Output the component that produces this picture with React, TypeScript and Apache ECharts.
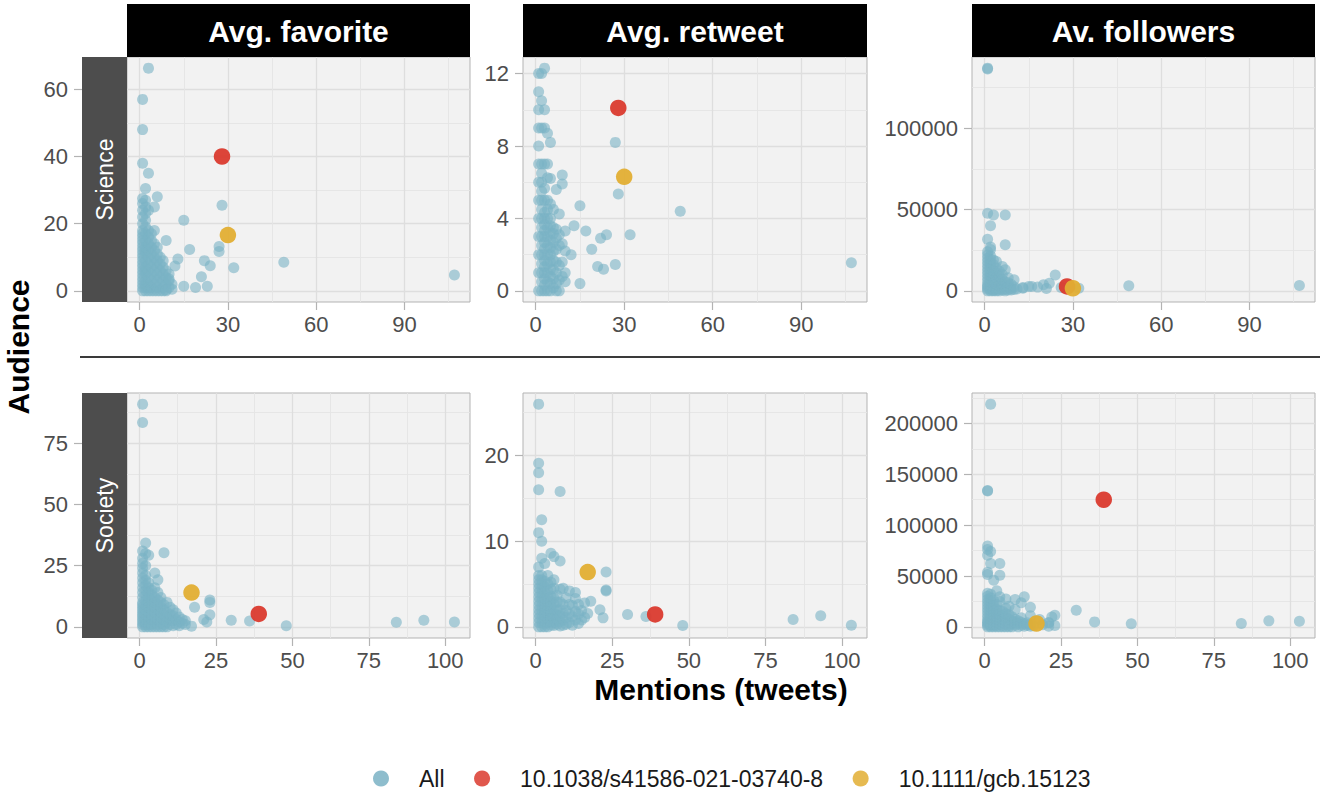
import React, { useEffect, useRef } from "react";
import * as echarts from "echarts";

const FONT = '"Liberation Sans", Arial, Helvetica, sans-serif';

// ---------- labels ----------
const rowLabels = ["Science", "Society"];
const metricLabels = ["Avg. favorite", "Avg. retweet", "Av. followers"];
const legendNames = ["All", "10.1038/s41586-021-03740-8", "10.1111/gcb.15123"];
const xAxisTitle = "Mentions (tweets)";
const yAxisTitle = "Audience";

// ---------- tick labels ----------
const xTicksScience = [0, 30, 60, 90];
const xTicksSociety = [0, 25, 50, 75, 100];
const yTicksSciFav = [0, 20, 40, 60];
const yTicksSciRt = [0, 4, 8, 12];
const yTicksSciFol = [0, 50000, 100000];
const yTicksSocFav = [0, 25, 50, 75];
const yTicksSocRt = [0, 10, 20];
const yTicksSocFol = [0, 50000, 100000, 150000, 200000];

type Cluster = [number, number[]][];
type Pts = [number, number][];

// ---------- Science / Avg. favorite ----------
const sciFavCluster: Cluster = [
  [1, [0, 1, 2, 3, 4, 5, 6, 7, 8, 9, 10, 11, 12, 13, 14, 15, 16, 17, 18, 20, 22, 24, 26, 27.5]],
  [2, [0, 1, 2, 3, 5, 6, 7, 9, 11, 12, 13, 15, 17, 19, 21, 23, 25, 27]],
  [3, [0, 1, 2, 4, 6, 8, 10, 12, 14, 16, 18, 24]],
  [4, [0, 1, 3, 5, 7, 9, 11, 13, 15, 17]],
  [5, [0, 2, 4, 6, 8, 10, 12, 14, 18]],
  [6, [0, 1, 3, 5, 7, 9, 11, 13]],
  [7, [0, 2, 4, 6, 8, 10]],
  [8, [0, 1, 3, 5, 7, 9]],
  [9, [0, 2, 4, 6]],
  [10, [1, 3, 5]],
  [11, [0.5, 2]],
];
const sciFavOutliers: Pts = [
  [3, 66.3], [1, 57], [1, 48], [1, 38], [3, 35], [2, 30.5], [6, 28], [5, 25],
  [15, 21], [28, 25.5], [9, 15], [17, 12.3], [27, 13.2], [27, 11.7], [13, 9.5],
  [12, 7.4], [22, 9], [24, 7.5], [32, 6.9], [49, 8.5], [107, 4.7], [21, 4.2],
  [15, 1.4], [19, 1], [23, 1.4], [9, 0.3], [10, 3.5],
];
const sciFavPaper1: Pts = [[28, 40]];
const sciFavPaper2: Pts = [[30, 16.6]];

// ---------- Science / Avg. retweet ----------
const sciRtCluster: Cluster = [
  [1, [0, 1, 2, 3, 4, 5, 6, 7, 8, 9, 10, 11, 12]],
  [2, [0, 0.5, 1, 1.5, 2, 2.5, 3, 3.5, 4, 4.5, 5, 5.5, 6, 6.5, 7, 9, 10.5, 12]],
  [3, [0, 0.33, 0.67, 1, 1.33, 1.67, 2, 2.33, 2.67, 3, 3.33, 3.67, 4, 4.33, 5, 5.67, 7, 9, 10]],
  [4, [0, 0.5, 1, 1.5, 2, 2.5, 3, 3.5, 4, 4.5, 5, 6.25, 7, 8.7]],
  [5, [0, 0.4, 0.8, 1.2, 1.6, 2, 2.4, 2.8, 3.2, 3.6, 4, 4.8, 6.2, 8.2]],
  [6, [0.17, 0.67, 1.17, 1.67, 2.17, 2.67, 3.17, 3.5, 4.5]],
  [7, [0, 0.4, 1, 1.6, 2.3, 2.9, 3.4, 5.6]],
  [8, [0, 0.6, 1.4, 2.5, 3.1, 4.25]],
  [9, [0.8, 1.6, 2.6, 6.4, 5.9]],
  [10, [0.5, 1, 2.2, 3.3]],
];
const sciRtOutliers: Pts = [
  [3, 12.3], [15, 4.7], [49, 4.4], [13, 3.6], [17, 3.3], [24, 3.1], [32, 3.1],
  [22, 2.9], [19, 2.3], [12, 2], [21, 1.35], [23, 1.2], [27, 1.45], [15, 0.4],
  [107, 1.55], [28, 5.35], [27, 8.2],
];
const sciRtPaper1: Pts = [[28, 10.1]];
const sciRtPaper2: Pts = [[30, 6.3]];

// ---------- Science / Av. followers ----------
const sciFolCluster: Cluster = [
  [1, [0, 1000, 2000, 3000, 4000, 6000, 8000, 10000, 12000, 14000, 16000, 18000, 20000, 22000, 24000]],
  [2, [0, 1000, 2500, 3500, 5500, 7500, 9500, 11500, 13500, 15500, 17500, 19500, 21500, 25500]],
  [3, [0, 500, 2500, 4500, 6500, 8500, 10500, 12500, 16000, 19000]],
  [4, [0, 1000, 2000, 4000, 6000, 8000, 11000, 14000, 18000]],
  [5, [0, 1000, 3000, 5000, 7000, 9000, 12000]],
  [6, [500, 2500, 4500, 7000, 10000, 15000]],
  [7, [0, 1000, 3000, 5500, 13000]],
  [8, [500, 2500, 5000, 8000]],
  [9, [500, 1500, 4000]],
  [10, [800, 2500, 6800]],
  [11, [1200]],
  [13, [2000]],
  [15, [2700]],
];
const sciFolOutliers: Pts = [
  [1, 137000], [1, 136500], [1, 47700], [3, 46700], [7, 46700], [2, 40000],
  [1, 31800], [7, 28300], [2, 27000], [24, 9800], [22, 4700], [20, 3700],
  [16, 2700], [18, 2300], [13, 1600], [21, 1400], [32, 1600], [49, 3100],
  [107, 3300], [26, 2000], [29, 2200],
];
const sciFolPaper1: Pts = [[28, 2700]];
const sciFolPaper2: Pts = [[30, 1600]];

// ---------- Society / Avg. favorite ----------
const socFavCluster: Cluster = [
  [1, [0, 1, 2, 3, 4, 5, 6, 7, 8, 9, 10, 12, 14, 16, 18, 20, 22, 24, 26, 28]],
  [2, [0, 1, 2, 3, 5, 7, 9, 11, 13, 15, 17, 19, 21, 25]],
  [3, [0, 1, 2, 4, 6, 8, 10, 12, 14, 16, 18]],
  [4, [0, 1, 3, 5, 7, 9, 11, 13, 15]],
  [5, [0, 2, 4, 6, 8, 10, 12, 16]],
  [6, [0, 1, 3, 5, 7, 9, 11, 14]],
  [7, [0, 2, 4, 6, 8, 10, 12]],
  [8, [0, 1, 3, 5, 7, 9]],
  [9, [0, 2, 4, 6, 10]],
  [10, [1, 3, 5, 8]],
  [11, [0.5, 2.5, 4.5, 7]],
  [12, [1, 3, 5.7]],
  [13, [0.5, 2, 4]],
  [14, [1.5, 3]],
  [15, [1, 2.5]],
];
const socFavOutliers: Pts = [
  [1, 91], [1, 83.5], [2, 34.3], [1, 31], [2, 30], [3, 29.3], [8, 30.3], [5, 22],
  [6, 19.2], [23, 11], [23, 10], [18, 8], [23, 4.9], [21, 3], [22, 2], [17, 0.3],
  [30, 2.7], [36, 2.4], [48, 0.5], [84, 1.9], [93, 2.7], [103, 2],
];
const socFavPaper1: Pts = [[39, 5.3]];
const socFavPaper2: Pts = [[17, 14]];

// ---------- Society / Avg. retweet ----------
const socRtCluster: Cluster = [
  [1, [0, 0.5, 1, 1.5, 2, 2.5, 3, 3.5, 4, 4.5, 5, 5.5, 6, 7]],
  [2, [0, 0.5, 1, 1.5, 2, 2.5, 3, 3.5, 4, 4.5, 5, 5.5, 6]],
  [3, [0, 0.33, 0.67, 1, 1.33, 1.67, 2, 2.33, 2.67, 3, 3.33, 4, 4.67, 5.33]],
  [4, [0, 0.5, 1, 1.5, 2, 2.5, 3, 3.5, 4.25, 5, 6]],
  [5, [0.2, 0.6, 1, 1.4, 1.8, 2.4, 3, 3.6, 4.4, 5.2]],
  [6, [0.17, 0.5, 1, 1.5, 2, 2.67, 3.33, 4.5, 5.5]],
  [7, [0.3, 0.9, 1.4, 2, 2.9, 3.7]],
  [8, [0.1, 0.6, 1.3, 2, 2.9, 4.4]],
  [9, [0.2, 0.8, 1.6, 2.6, 4.5]],
  [10, [0.3, 1.1, 1.9, 3.4]],
  [11, [0.5, 1.5, 2.6, 4.2]],
  [12, [0.2, 1.2, 2.5]],
  [13, [0.8, 1.8, 3.3]],
  [14, [0.4, 1.5, 2.6]],
  [15, [0.8, 1.9]],
  [16, [1.1, 2.8]],
];
const socRtOutliers: Pts = [
  [1, 26], [1, 19.1], [1, 18], [1, 16], [8, 15.8], [2, 12.5], [1, 11], [2, 10],
  [2, 8], [5, 8.6], [6, 8.2], [8, 7.7], [3, 7.4], [23, 6.4], [23, 4.2], [23, 4.3],
  [18, 3], [13, 4], [21, 2], [22, 1.05], [17, 1.55], [30, 1.45], [36, 1.2],
  [48, 0.15], [84, 0.85], [93, 1.3], [103, 0.2],
];
const socRtPaper1: Pts = [[39, 1.45]];
const socRtPaper2: Pts = [[17, 6.4]];

// ---------- Society / Av. followers ----------
const socFolCluster: Cluster = [
  [1, [0, 1500, 3000, 4500, 6000, 9000, 12000, 15000, 18000, 21000, 24000, 27000, 30000, 33000]],
  [2, [0, 1500, 3000, 4500, 7500, 10500, 13500, 16500, 19500, 22500, 25500, 28500, 32000]],
  [3, [0, 1500, 3000, 6000, 9000, 12000, 15000, 18000, 21000, 26000]],
  [4, [0, 1500, 4500, 7500, 10500, 13500, 17000, 22000]],
  [5, [0, 3000, 6000, 9000, 12000, 16000, 25000]],
  [6, [0, 1500, 4500, 7500, 11000, 15000]],
  [7, [0, 3000, 6000, 9500, 13000, 18000]],
  [8, [0, 1500, 4500, 8000, 12000]],
  [9, [0, 3000, 6000, 10000]],
  [10, [1500, 4500, 7500]],
  [11, [0, 3000, 6000]],
  [12, [1500, 4500, 9000]],
  [13, [500, 3000]],
  [14, [1500, 4000]],
  [15, [500, 2500, 11000]],
  [16, [1000]],
  [19, [2000]],
  [21, [4200, 500]],
];
const socFolOutliers: Pts = [
  [2, 219000], [1, 134000], [1, 133500], [1, 79400], [1, 76000], [2, 74100],
  [1, 70500], [2, 62300], [5, 62300], [1, 53800], [1, 51500], [5, 50800],
  [3, 45900], [4, 35400], [5, 29500], [7, 27500], [10, 26900], [13, 29500],
  [12, 23600], [15, 19300], [8, 20300], [10, 17000], [23, 11500], [22, 9800],
  [18, 7200], [23, 1300], [21, 3900], [30, 16400], [36, 4900], [48, 3000],
  [84, 3300], [93, 5900], [103, 5600],
];
const socFolPaper1: Pts = [[39, 125000]];
const socFolPaper2: Pts = [[17, 3300]];

// ---------- styling ----------
const COLOR_ALL = "#7AB2C4";
const COLOR_P1 = "#DA3A2E";
const COLOR_P2 = "#E2AE33";

const GRID_LEFT = [127, 523, 972];
const GRID_W = [343, 344, 343];
const GRID_TOP = [57, 393];
const GRID_H = 245;
const STRIP_TOP = 4;
const SIDE_STRIP_W = 45;

function expand(cluster: Cluster, extra: Pts): Pts {
  const out: Pts = [];
  cluster.forEach(([x, ys]) => ys.forEach((y) => out.push([x, y])));
  return out.concat(extra);
}

type Panel = { all: Pts; p1: Pts; p2: Pts; yTicks: number[]; xTicks: number[] };

const panels: Panel[] = [
  { all: expand(sciFavCluster, sciFavOutliers), p1: sciFavPaper1, p2: sciFavPaper2, yTicks: yTicksSciFav, xTicks: xTicksScience },
  { all: expand(sciRtCluster, sciRtOutliers), p1: sciRtPaper1, p2: sciRtPaper2, yTicks: yTicksSciRt, xTicks: xTicksScience },
  { all: expand(sciFolCluster, sciFolOutliers), p1: sciFolPaper1, p2: sciFolPaper2, yTicks: yTicksSciFol, xTicks: xTicksScience },
  { all: expand(socFavCluster, socFavOutliers), p1: socFavPaper1, p2: socFavPaper2, yTicks: yTicksSocFav, xTicks: xTicksSociety },
  { all: expand(socRtCluster, socRtOutliers), p1: socRtPaper1, p2: socRtPaper2, yTicks: yTicksSocRt, xTicks: xTicksSociety },
  { all: expand(socFolCluster, socFolOutliers), p1: socFolPaper1, p2: socFolPaper2, yTicks: yTicksSocFol, xTicks: xTicksSociety },
];

// ggplot-like 5% expansion of the data range
function expandedRange(vals: number[]): [number, number] {
  const lo = Math.min(...vals);
  const hi = Math.max(...vals);
  const pad = (hi - lo) * 0.05;
  return [lo - pad, hi + pad];
}

function valueAxis(gridIndex: number, range: [number, number], ticks: number[], isY: boolean, offset: number) {
  const step = ticks[1] - ticks[0];
  return {
    type: "value",
    gridIndex,
    min: range[0],
    max: range[1],
    minInterval: step,
    maxInterval: step,
    offset,
    axisLine: { show: false, onZero: false },
    axisTick: { show: true, length: 8, lineStyle: { color: "#B3B3B3", width: 1.2 }, customValues: ticks },
    axisLabel: {
      customValues: ticks,
      margin: isY ? 14 : 11,
      fontSize: 22,
      color: "#4D4D4D",
      fontFamily: FONT,
      formatter: (v: number) => String(v),
    },
    splitLine: { show: true, lineStyle: { color: "#DEDEDE", width: 1.3 } },
    minorTick: { show: false, splitNumber: 2 },
    minorSplitLine: { show: true, lineStyle: { color: "#E4E4E4", width: 0.9 } },
  };
}

function buildOption() {
  const grid: any[] = [];
  const xAxis: any[] = [];
  const yAxis: any[] = [];
  const series: any[] = [];
  const graphic: any[] = [];

  panels.forEach((p, i) => {
    const row = Math.floor(i / 3);
    const col = i % 3;
    grid.push({
      left: GRID_LEFT[col],
      top: GRID_TOP[row],
      width: GRID_W[col],
      height: GRID_H,
      show: true,
      backgroundColor: "#F2F2F2",
      borderColor: "#B3B3B3",
      borderWidth: 1,
      containLabel: false,
      outerBoundsMode: "none",
    });
    const rowPanels = panels.slice(row * 3, row * 3 + 3);
    const xs = rowPanels.flatMap((q) => q.all.concat(q.p1, q.p2).map((d) => d[0]));
    const ys = p.all.concat(p.p1, p.p2).map((d) => d[1]);
    xAxis.push(valueAxis(i, expandedRange(xs), p.xTicks, false, 0));
    yAxis.push(valueAxis(i, expandedRange(ys), p.yTicks, true, col === 0 ? SIDE_STRIP_W : 0));

    series.push({
      type: "scatter", name: legendNames[0], xAxisIndex: i, yAxisIndex: i, data: p.all,
      symbolSize: 11, itemStyle: { color: COLOR_ALL, opacity: 0.6 }, silent: true, z: 2,
    });
    series.push({
      type: "scatter", name: legendNames[1], xAxisIndex: i, yAxisIndex: i, data: p.p1,
      symbolSize: 16.5, itemStyle: { color: COLOR_P1, opacity: 0.95 }, silent: true, z: 3,
    });
    series.push({
      type: "scatter", name: legendNames[2], xAxisIndex: i, yAxisIndex: i, data: p.p2,
      symbolSize: 16.5, itemStyle: { color: COLOR_P2, opacity: 0.95 }, silent: true, z: 4,
    });
  });

  // top strips
  metricLabels.forEach((label, col) => {
    graphic.push({
      type: "rect",
      shape: { x: GRID_LEFT[col], y: STRIP_TOP, width: GRID_W[col], height: GRID_TOP[0] - STRIP_TOP },
      style: { fill: "#000000" },
      silent: true,
    });
    graphic.push({
      type: "text",
      x: GRID_LEFT[col] + GRID_W[col] / 2,
      y: 31,
      style: {
        text: label, fill: "#FFFFFF", fontSize: 30, fontWeight: "bold", fontFamily: FONT,
        align: "center", verticalAlign: "middle", textAlign: "center", textVerticalAlign: "middle",
      },
      silent: true,
    });
  });

  // side strips
  rowLabels.forEach((label, row) => {
    graphic.push({
      type: "rect",
      shape: { x: GRID_LEFT[0] - SIDE_STRIP_W, y: GRID_TOP[row], width: SIDE_STRIP_W, height: GRID_H },
      style: { fill: "#4D4D4D" },
      silent: true,
    });
    graphic.push({
      type: "text",
      x: GRID_LEFT[0] - SIDE_STRIP_W / 2,
      y: GRID_TOP[row] + GRID_H / 2,
      rotation: Math.PI / 2,
      style: {
        text: label, fill: "#FFFFFF", fontSize: 23, fontFamily: FONT,
        align: "center", verticalAlign: "middle", textAlign: "center", textVerticalAlign: "middle",
      },
      silent: true,
    });
  });

  // separator between rows
  graphic.push({
    type: "line",
    shape: { x1: 80, y1: 357, x2: 1320, y2: 357 },
    style: { stroke: "#3A3A3A", lineWidth: 2 },
    silent: true,
  });

  // axis titles
  graphic.push({
    type: "text",
    x: 18,
    y: 347,
    rotation: Math.PI / 2,
    style: {
      text: yAxisTitle, fill: "#000000", fontSize: 30, fontWeight: "bold", fontFamily: FONT,
      align: "center", verticalAlign: "middle", textAlign: "center", textVerticalAlign: "middle",
    },
    silent: true,
  });
  graphic.push({
    type: "text",
    x: 721,
    y: 689,
    style: {
      text: xAxisTitle, fill: "#000000", fontSize: 30, fontWeight: "bold", fontFamily: FONT,
      align: "center", verticalAlign: "middle", textAlign: "center", textVerticalAlign: "middle",
    },
    silent: true,
  });

  return {
    animation: false,
    backgroundColor: "#FFFFFF",
    textStyle: { fontFamily: FONT },
    grid,
    xAxis,
    yAxis,
    series,
    graphic,
    legend: {
      data: legendNames.map((n) => ({ name: n, itemStyle: { opacity: 0.85 } })),
      left: 373,
      top: 767,
      padding: 0,
      orient: "horizontal",
      icon: "circle",
      itemWidth: 16,
      itemHeight: 16,
      itemGap: 29.5,
      selectedMode: false,
      textStyle: { fontFamily: FONT, fontSize: 23, color: "#1A1A1A", padding: [0, 0, 0, 25] },
    },
  };
}

export default function App() {
  const ref = useRef<HTMLDivElement>(null);
  useEffect(() => {
    if (!ref.current) return;
    const chart = echarts.init(ref.current, undefined, { renderer: "svg" });
    chart.setOption(buildOption() as any);
    return () => chart.dispose();
  }, []);
  return (
    <div
      ref={ref}
      style={{ position: "absolute", left: 0, top: 0, width: 1325, height: 795, background: "#FFFFFF" }}
    />
  );
}
